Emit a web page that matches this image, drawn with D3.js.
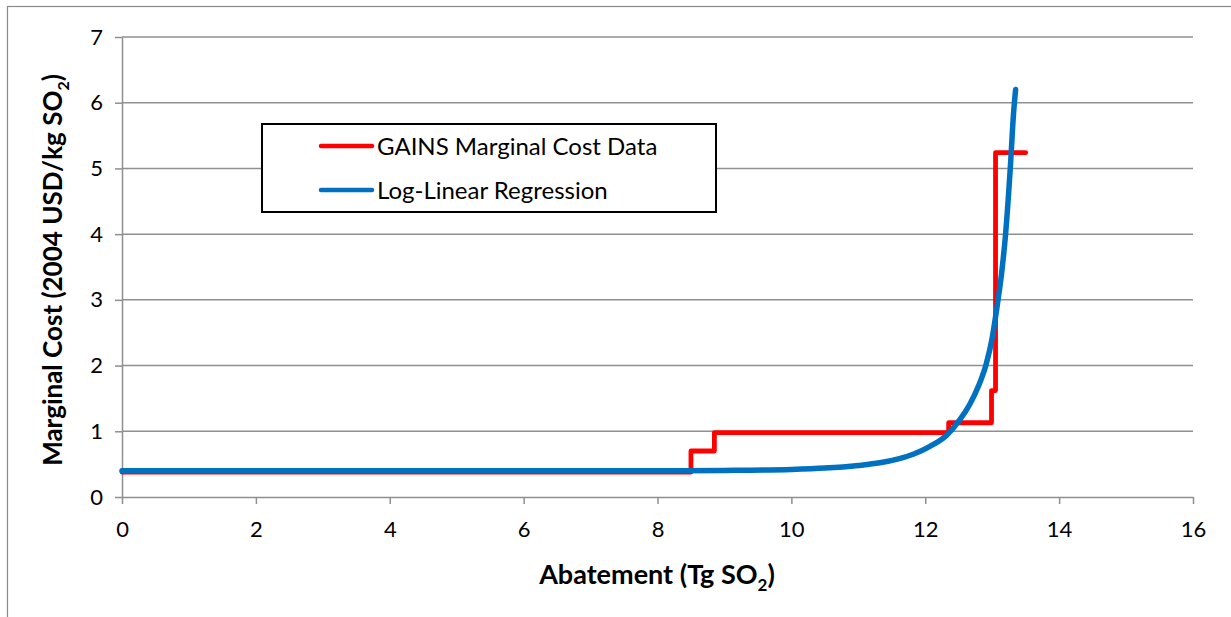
<!DOCTYPE html>
<html>
<head>
<meta charset="utf-8">
<script src="https://cdn.jsdelivr.net/npm/d3@7/dist/d3.min.js"></script>
<style>
  html, body { margin: 0; padding: 0; background: #fff; }
  svg { display: block; font-family: Lato, "Open Sans", sans-serif; }
</style>
</head>
<body>
<svg id="chart" width="1231" height="617"></svg>
<script>
// ---- data ----
const gainsAbatement = [0, 8.5, 8.85, 12.35, 12.99, 13.05, 13.5];
const gainsCost      = [0.38, 0.70, 0.98, 1.13, 1.62, 5.24, 5.24];

const regAbatement = [0, 4, 8, 9, 10, 10.5, 11, 11.32, 11.6, 11.82, 12.07, 12.32, 12.52, 12.67, 12.80, 12.91, 13.0, 13.08, 13.14, 13.20, 13.27, 13.32, 13.35];
const regCost      = [0.40, 0.40, 0.40, 0.405, 0.42, 0.44, 0.48, 0.52, 0.58, 0.65, 0.77, 0.94, 1.18, 1.42, 1.70, 2.02, 2.42, 2.95, 3.4, 4.0, 5.0, 5.85, 6.2];

const xTicks = [0, 2, 4, 6, 8, 10, 12, 14, 16];
const yTicks = [0, 1, 2, 3, 4, 5, 6, 7];

const seriesNames  = ["GAINS Marginal Cost Data", "Log-Linear Regression"];
const seriesColors = ["#ff0000", "#0070c0"];

// ---- layout ----
const svg = d3.select("#chart");
const x = d3.scaleLinear().domain([0, 16]).range([122, 1193]);
const y = d3.scaleLinear().domain([0, 7]).range([497, 37]);
const gridColor = "#8f8f8f";
const fontFam = "Lato, 'Open Sans', sans-serif";

// outer chart border
svg.append("rect")
  .attr("x", 7.5).attr("y", 6.5).attr("width", 1400).attr("height", 800)
  .attr("fill", "none").attr("stroke", "#8a8a8a").attr("stroke-width", 1.2);

// gridlines
svg.append("g").selectAll("line").data(yTicks.filter(d => d > 0)).join("line")
  .attr("x1", x(0)).attr("x2", x(16))
  .attr("y1", d => y(d)).attr("y2", d => y(d))
  .attr("stroke", gridColor).attr("stroke-width", 1.5);

// y axis
const yAxis = svg.append("g").attr("transform", `translate(${x(0)},0)`)
  .call(d3.axisLeft(y).tickValues(yTicks).tickFormat(d3.format("d"))
    .tickSize(7).tickSizeOuter(0).tickPadding(12));
// x axis
const xAxis = svg.append("g").attr("transform", `translate(0,${y(0)})`)
  .call(d3.axisBottom(x).tickValues(xTicks).tickFormat(d3.format("d"))
    .tickSize(7).tickSizeOuter(0).tickPadding(17));

[yAxis, xAxis].forEach(g => {
  g.selectAll("path.domain").attr("stroke", gridColor).attr("stroke-width", 1.5);
  g.selectAll(".tick line").attr("stroke", gridColor).attr("stroke-width", 1.5);
  g.selectAll(".tick text").attr("fill", "#000").style("font-size", "22px")
    .style("font-family", fontFam);
});

// ---- series ----
const gainsData = gainsAbatement.map((a, i) => ({ a, c: gainsCost[i] }));
const regData = regAbatement.map((a, i) => ({ a, c: regCost[i] }));

svg.append("path")
  .datum(gainsData)
  .attr("d", d3.line().x(d => x(d.a)).y(d => y(d.c)).curve(d3.curveStepAfter))
  .attr("fill", "none").attr("stroke", seriesColors[0]).attr("stroke-width", 4.8)
  .attr("stroke-linejoin", "round").attr("stroke-linecap", "round");

svg.append("path")
  .datum(regData)
  .attr("d", d3.line().x(d => x(d.a)).y(d => y(d.c)).curve(d3.curveMonotoneX))
  .attr("fill", "none").attr("stroke", seriesColors[1]).attr("stroke-width", 5.5)
  .attr("stroke-linejoin", "round").attr("stroke-linecap", "round");

// ---- legend ----
const legend = svg.append("g");
legend.append("rect")
  .attr("x", 262).attr("y", 124).attr("width", 454).attr("height", 88)
  .attr("fill", "#fff").attr("stroke", "#000").attr("stroke-width", 2);
const items = legend.selectAll("g.item").data(seriesNames).join("g").attr("class", "item")
  .attr("transform", (d, i) => `translate(0,${146 + i * 44})`);
items.append("line")
  .attr("x1", 321).attr("x2", 372).attr("y1", 0).attr("y2", 0)
  .attr("stroke", (d, i) => seriesColors[i]).attr("stroke-width", 4.5)
  .attr("stroke-linecap", "round");
items.append("text")
  .attr("x", 377).attr("y", 0).attr("dy", "0.36em")
  .style("font-size", "24px").attr("fill", "#000")
  .text(d => d);

// ---- axis titles ----
const xt = svg.append("text")
  .attr("x", 657).attr("y", 584).attr("text-anchor", "middle")
  .style("font-size", "27px").style("font-weight", "bold");
xt.append("tspan").text("Abatement (Tg SO");
xt.append("tspan").attr("dy", 7).style("font-size", "17px").text("2");
xt.append("tspan").attr("dy", -7).text(")");

const yt = svg.append("text")
  .attr("transform", "translate(62,270) rotate(-90)")
  .attr("text-anchor", "middle")
  .style("font-size", "26px").style("font-weight", "bold");
yt.append("tspan").text("Marginal Cost (2004 USD/kg SO");
yt.append("tspan").attr("dy", 7).style("font-size", "16px").text("2");
yt.append("tspan").attr("dy", -7).text(")");
</script>
</body>
</html>
